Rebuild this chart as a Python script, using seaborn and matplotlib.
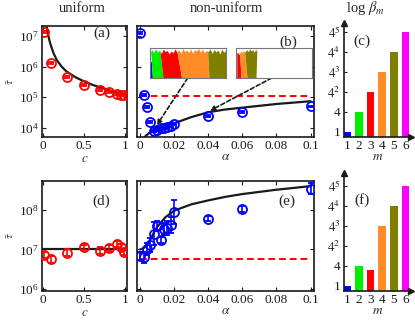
import numpy as np
import matplotlib
matplotlib.use("Agg")
import matplotlib.pyplot as plt
from matplotlib.ticker import FixedLocator, FixedFormatter, NullLocator, LogFormatterMathtext
import seaborn as sns

sns.set_theme(style="ticks")
plt.rcParams["font.family"] = ["Liberation Serif", "DejaVu Serif"]
plt.rcParams["mathtext.fontset"] = "stix"

# ---------------- data ----------------
# (a) uniform, top row
c_a = [0.02, 0.1, 0.3, 0.5, 0.7, 0.8, 0.9, 0.95, 0.99]
logtau_a = [7.13, 6.13, 5.67, 5.40, 5.24, 5.18, 5.10, 5.07, 5.07]
c_fit_a = [0.045, 0.06, 0.09, 0.13, 0.17, 0.23, 0.29, 0.4, 0.51, 0.6, 0.7, 0.86, 1.0]
logfit_a = [7.36, 7.1, 6.77, 6.45, 6.22, 6.0, 5.84, 5.65, 5.51, 5.41, 5.32, 5.18, 5.1]

# (b) non-uniform, top row
alpha = [0, 0.002, 0.004, 0.006, 0.008, 0.01, 0.012, 0.014, 0.016, 0.018, 0.02, 0.04, 0.06, 0.1]
logtau_b = [7.09, 5.08, 4.67, 4.18, 3.90, 3.94, 3.98, 4.00, 4.03, 4.06, 4.12, 4.38, 4.51, 4.70]
alpha_fit_b = [0.001, 0.003, 0.005, 0.008, 0.01, 0.015, 0.02, 0.03, 0.04, 0.05, 0.06, 0.08, 0.1]
logfit_b = [3.6, 3.72, 3.82, 3.92, 3.97, 4.07, 4.15, 4.35, 4.51, 4.6, 4.66, 4.78, 4.87]
log_ref_b = 5.05

# (d) uniform, bottom row
c_d = [0.01, 0.1, 0.3, 0.5, 0.7, 0.8, 0.9, 0.95, 0.99]
logtau_d = [6.86, 6.75, 6.92, 7.05, 6.97, 7.03, 7.13, 7.07, 6.93]
logerr_d = [0.08, 0.08, 0.08, 0.07, 0.08, 0.08, 0.08, 0.08, 0.08]
log_line_d = 7.02

# (e) non-uniform, bottom row
logtau_e = [6.84, 6.80, 7.02, 7.12, 7.40, 7.60, 7.24, 7.52, 7.55, 7.62, 7.95, 7.78, 8.02, 8.53]
logerr_e = [0.10, 0.13, 0.15, 0.18, 0.30, 0.12, 0.07, 0.15, 0.18, 0.20, 0.30, 0.06, 0.08, 0.14]
alpha_fit_e = [0, 0.002, 0.004, 0.006, 0.008, 0.01, 0.015, 0.02, 0.03, 0.04, 0.05, 0.06, 0.08, 0.1]
logfit_e = [7.0, 7.03, 7.12, 7.25, 7.42, 7.57, 7.82, 7.98, 8.14, 8.24, 8.33, 8.4, 8.51, 8.6]
log_ref_e = 6.75

# (c), (f) log beta_m in units of log 4
m_labels = ["1", "2", "3", "4", "5", "6"]
logb_c = [0, 1, 2, 3, 4, 5]
logb_f = [0, 1, 0.8, 3, 4, 5]
bar_colors = ["#0000ff", "#00ee00", "#ff0000", "#ff8c26", "#808000", "#ff00ff"]
ytick_b = ["1", "4", "$4^2$", "$4^3$", "$4^4$", "$4^5$"]

# insets: colour band boundaries (fraction of inset width) at bottom / top
band_colors = ["#0000ff", "#00ee00", "#ff0000", "#ff8c26", "#808000"]
in1_left_bot = [0.0, 0.035, 0.175, 0.42, 0.78]
in1_right_bot = [0.035, 0.175, 0.42, 0.78, 1.0]
in1_left_top = [0.0, 0.01, 0.13, 0.35, 0.76]
in1_right_top = [0.01, 0.13, 0.35, 0.76, 1.0]
in1_band_top = [0.55, 1, 1, 1, 1]
in1_profile = [0.80, 0.95, 0.84, 0.97, 0.86, 0.93, 0.82, 0.96, 0.88, 0.92, 0.80, 0.90,
               0.84, 0.97, 0.86, 0.95, 0.82, 0.98, 0.88, 0.93, 0.85, 0.97, 0.83, 0.94,
               0.90, 0.98, 0.86, 0.96, 0.84, 0.92, 0.88, 0.97, 0.82, 0.95, 0.87, 0.93,
               0.80, 0.96, 0.86, 0.92]
in2_left_bot = [0.01, 0.066, 0.145]
in2_right_bot = [0.066, 0.145, 0.263]
in2_left_top = [0.01, 0.044, 0.11]
in2_right_top = [0.044, 0.11, 0.276]
in2_colors = ["#ff0000", "#ff8c26", "#808000"]
in2_profile = [0.80, 0.86, 0.78, 0.90, 0.84, 0.92, 0.86, 0.95, 0.88, 0.97, 0.90, 0.94,
               0.86, 0.96, 0.89, 0.93, 0.0, 0.0]
in2_profile_x = [0.0, 0.02, 0.04, 0.06, 0.08, 0.10, 0.12, 0.14, 0.16, 0.18, 0.20, 0.22,
                 0.24, 0.26, 0.27, 0.28, 0.285, 1.0]

W, H = 415, 324
fig = plt.figure(figsize=(W / 100, H / 100), dpi=100)


def box(l, t, r, b):
    return [l / W, 1 - b / H, (r - l) / W, (b - t) / H]


def frame(ax):
    ax.tick_params(direction="in", top=True, right=True, length=3, width=0.8,
                   labelsize=9.5, pad=2.5, colors="k")
    for s in ax.spines.values():
        s.set_linewidth(1.2)
        s.set_color("k")
    ax.yaxis.set_minor_locator(NullLocator())
    ax.set_facecolor("white")


def pts(ax, x, logy, color, logerr=None):
    y = 10 ** np.array(logy)
    if logerr is None:
        logerr = [0.03] * len(x)
    e = np.array(logerr)
    lo = y - 10 ** (np.array(logy) - e)
    hi = 10 ** (np.array(logy) + e) - y
    ax.errorbar(x, y, yerr=[lo, hi], fmt="o", ms=6.5, mfc="none", mec=color, mew=1.3,
                ecolor=color, elinewidth=1.2, capsize=2.5, capthick=1.2, zorder=4)


def curve(ax, x, logy):
    sns.lineplot(x=x, y=10 ** np.array(logy), color="k", lw=1.6, ax=ax, zorder=3)


top_lim = (10 ** 3.71, 10 ** 7.33)
bot_lim = (10 ** 5.95, 10 ** 8.73)
c_ticks = [0, 0.5, 1]
c_ticklabels = ["0", "0.5", "1"]
a_ticks = [0, 0.02, 0.04, 0.06, 0.08, 0.1]
a_ticklabels = ["0", "0.02", "0.04", "0.06", "0.08", "0.1"]

# ---- (a)
ax_a = fig.add_axes(box(42.3, 26, 126.7, 136.7))
ax_a.set_yscale("log")
curve(ax_a, c_fit_a, logfit_a)
pts(ax_a, c_a, logtau_a, "#ff0000")
ax_a.set_xlim(-0.005, 1.02)
ax_a.set_ylim(*top_lim)
ax_a.yaxis.set_major_locator(FixedLocator([1e4, 1e5, 1e6, 1e7]))
ax_a.yaxis.set_major_formatter(LogFormatterMathtext())
frame(ax_a)

# ---- (b)
ax_b = fig.add_axes(box(136.7, 26, 314, 136.7))
ax_b.set_yscale("log")
ax_b.plot([0, 0.1], [10 ** log_ref_b] * 2, color="#ff0000", ls=(0, (3.5, 2)), lw=1.4, zorder=2)
curve(ax_b, alpha_fit_b, logfit_b)
pts(ax_b, alpha, logtau_b, "#0000ff")
ax_b.set_xlim(-0.002, 0.102)
ax_b.set_ylim(*top_lim)
ax_b.yaxis.set_major_locator(FixedLocator([1e4, 1e5, 1e6, 1e7]))
ax_b.set_yticklabels([])
frame(ax_b)

# ---- (d)
ax_d = fig.add_axes(box(42.3, 181, 126.7, 291))
ax_d.set_yscale("log")
ax_d.plot([-0.005, 1.02], [10 ** log_line_d] * 2, color="k", lw=1.6, zorder=3)
pts(ax_d, c_d, logtau_d, "#ff0000", logerr_d)
ax_d.set_xlim(-0.005, 1.02)
ax_d.set_ylim(*bot_lim)
ax_d.yaxis.set_major_locator(FixedLocator([1e6, 1e7, 1e8]))
ax_d.yaxis.set_major_formatter(LogFormatterMathtext())
frame(ax_d)

# ---- (e)
ax_e = fig.add_axes(box(136.7, 181, 314, 291))
ax_e.set_yscale("log")
ax_e.plot([0, 0.1], [10 ** log_ref_e] * 2, color="#ff0000", ls=(0, (3.5, 2)), lw=1.4, zorder=2)
curve(ax_e, alpha_fit_e, logfit_e)
pts(ax_e, alpha, logtau_e, "#0000ff", logerr_e)
ax_e.set_xlim(-0.002, 0.102)
ax_e.set_ylim(*bot_lim)
ax_e.yaxis.set_major_locator(FixedLocator([1e6, 1e7, 1e8]))
ax_e.set_yticklabels([])
frame(ax_e)

for ax in (ax_a, ax_d):
    ax.xaxis.set_major_locator(FixedLocator(c_ticks))
    ax.xaxis.set_major_formatter(FixedFormatter(c_ticklabels))
    ax.set_xlabel("$c$", fontsize=9.5, labelpad=0.5)
    ax.set_ylabel(r"$\bar{\tau}$", fontsize=8, labelpad=2)
for ax in (ax_b, ax_e):
    ax.xaxis.set_major_locator(FixedLocator(a_ticks))
    ax.xaxis.set_major_formatter(FixedFormatter(a_ticklabels))
    ax.set_xlabel(r"$\alpha$", fontsize=9.5, labelpad=-1)


# ---- (c), (f)
def bars(ax, vals, top):
    sns.barplot(x=m_labels, y=np.array(vals) + 0.25, hue=m_labels, palette=bar_colors,
                width=0.66, legend=False, ax=ax, bottom=-0.25, linewidth=0, saturation=1)
    ax.set_xlim(-0.27, 5.45)
    ax.set_ylim(-0.25, top)
    ax.set_yticks(range(6))
    ax.set_yticklabels(ytick_b)
    for s in ("top", "right"):
        ax.spines[s].set_visible(False)
    for s in ("left", "bottom"):
        ax.spines[s].set_linewidth(1.2)
        ax.spines[s].set_color("k")
    ax.tick_params(direction="in", length=2, width=0.8, labelsize=9.5, pad=2.5, colors="k")
    ax.plot(1, 0, ">k", ms=4, transform=ax.transAxes, clip_on=False)
    ax.plot(0, 1, "^k", ms=4, transform=ax.transAxes, clip_on=False)
    ax.set_xlabel("$m$", fontsize=9.5, labelpad=-0.5)
    ax.set_ylabel("")
    ax.set_facecolor("white")


ax_c = fig.add_axes(box(344, 22.7, 410.7, 136.7))
bars(ax_c, logb_c, 5.45)
ax_f = fig.add_axes(box(344, 172.7, 410.7, 290.7))
bars(ax_f, logb_f, 5.65)

# ---- titles and panel letters
fig.text(82 / W, 1 - 9 / H, "uniform", ha="center", va="center", fontsize=10.5)
fig.text(226 / W, 1 - 9 / H, "non-uniform", ha="center", va="center", fontsize=10.5)
fig.text(365 / W, 1 - 8 / H, r"log $\beta_m$", ha="center", va="center", fontsize=10.5)
for lab, x, y in [("(a)", 101.7, 33), ("(b)", 288, 42), ("(c)", 361.7, 41.7),
                  ("(d)", 101.7, 201.7), ("(e)", 286.7, 201.7), ("(f)", 361.7, 200)]:
    fig.text(x / W, 1 - y / H, lab, ha="center", va="center", fontsize=11)


# ---- insets in (b)
def inset(rect, lb, rb, lt, rt, btop, cols, px, prof):
    ax = fig.add_axes(rect)
    for l0, r0, l1, r1, t, col in zip(lb, rb, lt, rt, btop, cols):
        ax.fill_betweenx([0, t], [l0, l0 + (l1 - l0) * t], [r0, r0 + (r1 - r0) * t],
                         color=col, lw=0)
    ax.fill_between(px, prof, 1.01, color="white", lw=0, zorder=2)
    ax.set_xlim(0, 1)
    ax.set_ylim(0, 1)
    ax.set_xticks([])
    ax.set_yticks([])
    for s in ax.spines.values():
        s.set_linewidth(0.8)
        s.set_color("#777777")
        s.set_zorder(3)
    return ax


in1 = inset(box(149.7, 48, 225.7, 78), in1_left_bot, in1_right_bot, in1_left_top,
            in1_right_top, in1_band_top, band_colors,
            np.linspace(0, 1, len(in1_profile)), in1_profile)
in2 = inset(box(236, 48, 312, 78), in2_left_bot, in2_right_bot, in2_left_top,
            in2_right_top, [1, 1, 1], in2_colors, in2_profile_x, in2_profile)

arrow = dict(arrowstyle="-|>", ls=(0, (2.5, 1.5)), color="k", lw=1.2,
             mutation_scale=7, shrinkA=0, shrinkB=0)
ax_b.annotate("", xy=(0.0098, 10 ** 4.09), xycoords="data", xytext=(0.5, 0),
              textcoords=in1.transAxes, arrowprops=arrow)
ax_b.annotate("", xy=(0.041, 10 ** 4.56), xycoords="data", xytext=(0.47, 0),
              textcoords=in2.transAxes, arrowprops=arrow)

fig.savefig("out.png", dpi=100, facecolor="white")
